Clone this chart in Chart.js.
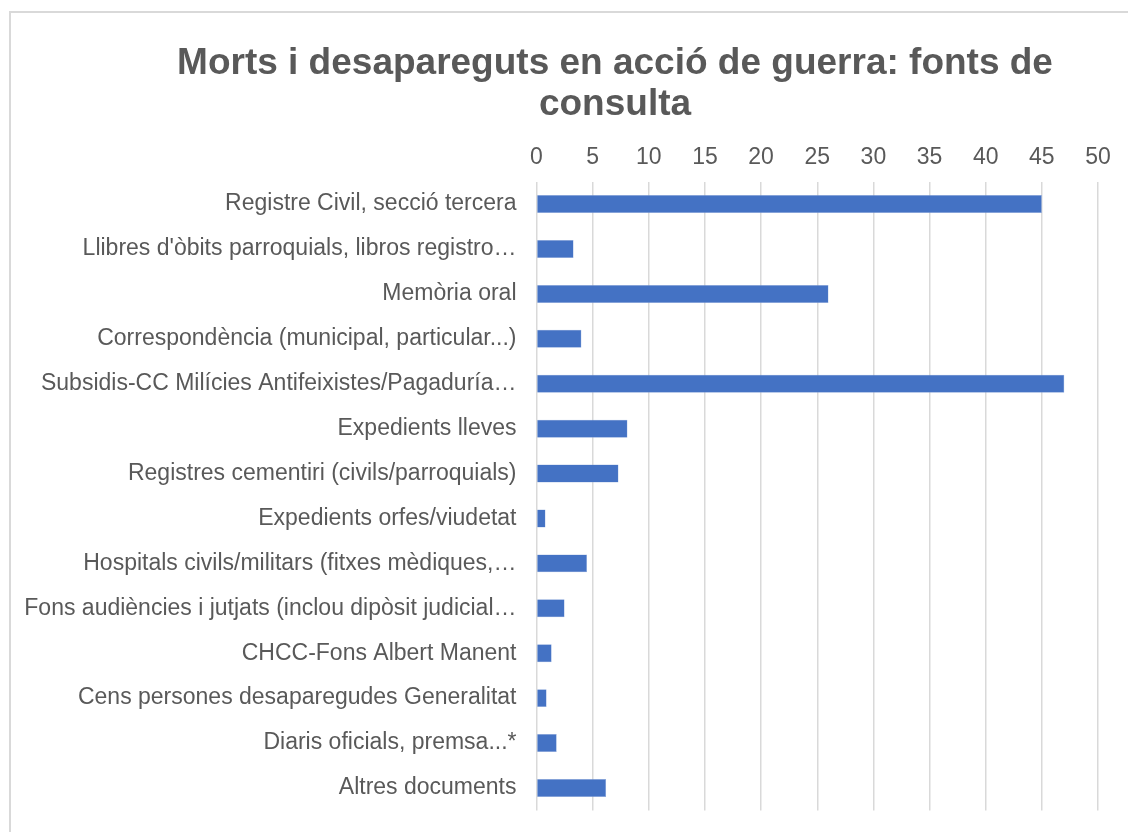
<!DOCTYPE html>
<html>
<head>
<meta charset="utf-8">
<script src="https://cdn.jsdelivr.net/npm/chart.js@4.4.0/dist/chart.umd.min.js"></script>
<style>
  html, body { margin: 0; padding: 0; width: 1128px; height: 832px; overflow: hidden; background: #fff; }
  #frame { position: absolute; left: 9px; top: 11px; width: 1240px; height: 900px; border: 2px solid #d9d9d9; box-sizing: border-box; }
  #wrap { position: absolute; left: 12px; top: 12px; width: 1206px; height: 820px; }
</style>
</head>
<body>
<div id="frame"></div>
<div id="wrap"><canvas id="c"></canvas></div>
<script>
const titleLines = ["Morts i desapareguts en acció de guerra: fonts de", "consulta"];
const categories = [
  "Registre Civil, secció tercera",
  "Llibres d'òbits parroquials, libros registro…",
  "Memòria oral",
  "Correspondència (municipal, particular...)",
  "Subsidis-CC Milícies Antifeixistes/Pagaduría…",
  "Expedients lleves",
  "Registres cementiri (civils/parroquials)",
  "Expedients orfes/viudetat",
  "Hospitals civils/militars (fitxes mèdiques,…",
  "Fons audiències i jutjats (inclou dipòsit judicial…",
  "CHCC-Fons Albert Manent",
  "Cens persones desaparegudes Generalitat",
  "Diaris oficials, premsa...*",
  "Altres documents"
];
const values = [45, 3.3, 26, 4, 47, 8.1, 7.3, 0.8, 4.5, 2.5, 1.35, 0.9, 1.8, 6.2];
const axisMin = 0, axisMax = 50, axisStep = 5;

const FONT = 'Liberation Sans, Arial, sans-serif';

// let the category labels use the space to the left of the axis box (no clipping)
const widenLabelArea = {
  id: 'widenLabelArea',
  afterLayout(chart) { chart.scales.y.left = 0; }
};

new Chart(document.getElementById('c'), {
  type: 'bar',
  data: {
    labels: categories,
    datasets: [{
      data: values,
      backgroundColor: '#4472C4',
      borderColor: '#8faadc',
      borderWidth: 0.5,
      categoryPercentage: 0.8,
      barPercentage: 0.5
    }]
  },
  plugins: [widenLabelArea],
  options: {
    indexAxis: 'y',
    responsive: true,
    maintainAspectRatio: false,
    animation: false,
    layout: { padding: { left: 120, right: 120, top: 0, bottom: 21.6 } },
    plugins: {
      legend: { display: false },
      tooltip: { enabled: false },
      title: {
        display: true,
        text: titleLines,
        color: '#595959',
        font: { family: FONT, size: 37, weight: 'bold', lineHeight: 1.11 },
        padding: { top: 31.5, bottom: 15.5 }
      }
    },
    scales: {
      x: {
        position: 'top',
        min: axisMin, max: axisMax,
        border: { display: false },
        grid: { color: '#d9d9d9', lineWidth: 1.5, drawTicks: false },
        afterFit: (s) => { s.height = 40.5; },
        ticks: {
          stepSize: axisStep,
          color: '#595959',
          padding: 10.5,
          font: { family: FONT, size: 23 }
        }
      },
      y: {
        border: { display: false },
        grid: { display: false, drawTicks: false },
        afterFit: (s) => { s.width = 404.5; s.paddingTop = 0; s.paddingBottom = 0; },
        ticks: {
          color: '#595959',
          padding: 20,
          autoSkip: false,
          font: { family: FONT, size: 23 }
        }
      }
    }
  }
});
</script>
</body>
</html>
